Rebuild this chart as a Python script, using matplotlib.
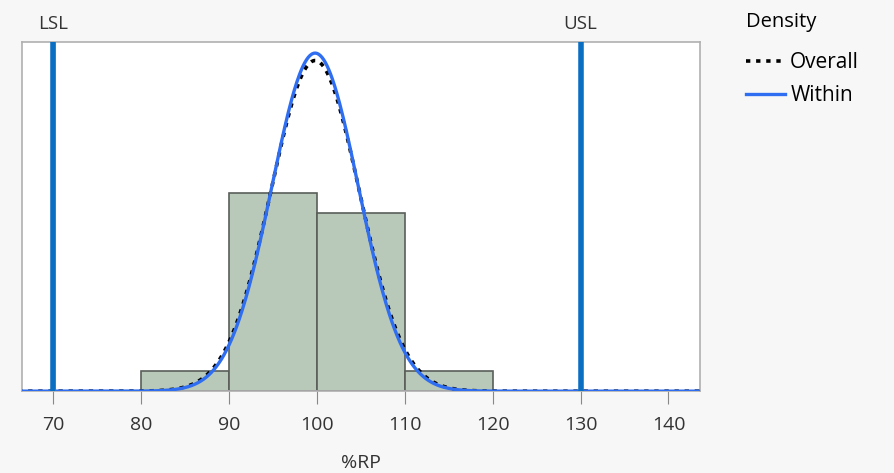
import numpy as np
import matplotlib
matplotlib.use('Agg')
import matplotlib.pyplot as plt

# histogram of %RP (counts per 10-unit bin)
bin_edges = [80, 90, 100, 110, 120]
bin_counts = [1, 10, 9, 1]

# fitted normal densities
mean_rp = 99.8
sd_overall = 5.02
sd_within = 4.91

lsl = 70
usl = 130
xticks = [70, 80, 90, 100, 110, 120, 130, 140]

plt.rcParams['font.family'] = ['Open Sans', 'DejaVu Sans']

fig = plt.figure(figsize=(8.94, 4.73), dpi=100)
fig.patch.set_facecolor('#f7f7f7')
ax = fig.add_axes([0.0246, 0.173, 0.7585, 0.738])
ax.set_facecolor('white')

n = sum(bin_counts)
widths = np.diff(bin_edges)
dens = np.array(bin_counts) / (n * widths)
ax.bar(bin_edges[:-1], dens, width=widths, align='edge', color='#b9c9b9',
       edgecolor='#5a5f5a', linewidth=1.2, zorder=2)

x = np.linspace(66, 144, 800)
def npdf(x, m, s):
    return np.exp(-0.5 * ((x - m) / s) ** 2) / (s * np.sqrt(2 * np.pi))

ax.plot(x, npdf(x, mean_rp, sd_overall), color='black', linestyle=(0, (1.2, 1.6)),
        linewidth=2.6, zorder=3, label='Overall')
ax.plot(x, npdf(x, mean_rp, sd_within), color='#2f6ef0', linewidth=2.4,
        zorder=4, label='Within')

for v, name in [(lsl, 'LSL'), (usl, 'USL')]:
    ax.axvline(v, color='#0a6fc2', linewidth=4, zorder=5)
    ax.text(v, 1.025, name, transform=ax.get_xaxis_transform(), ha='center',
            va='bottom', fontsize=13.5, color='#333333')
ax.axvline(lsl + 0.25, color='#f2a0a0', linewidth=0.6, zorder=4)

ax.set_xlim(66.45, 143.6)
ax.set_ylim(0, 0.0839)
ax.set_yticks([])
ax.set_xticks(xticks)
ax.tick_params(axis='x', length=9, color='#888888', labelsize=14,
               labelcolor='#333333', pad=9)
ax.set_xlabel('%RP', fontsize=14, color='#333333', labelpad=14)
for sp in ax.spines.values():
    sp.set_color('#b0b0b0')
    sp.set_linewidth(1.2)

leg = ax.legend(loc='upper left', bbox_to_anchor=(1.053, 1.115), frameon=False,
                title='Density', fontsize=15, title_fontsize=14.5,
                handlelength=1.85, handletextpad=0.25, labelspacing=0.6,
                borderpad=0)
leg._legend_box.align = 'left'
leg._legend_box.sep = 14

fig.savefig('out.png', dpi=100, facecolor=fig.get_facecolor())
